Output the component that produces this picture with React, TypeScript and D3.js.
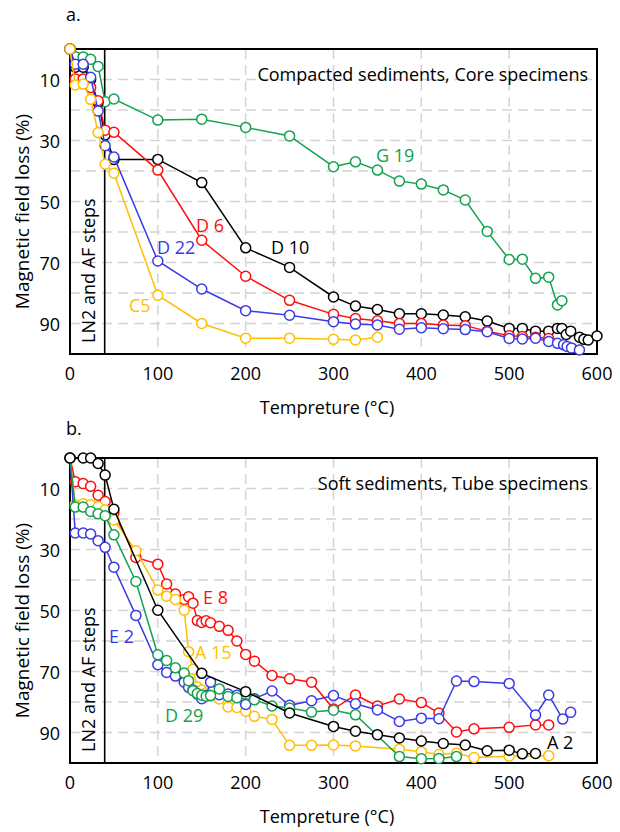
import React from "react";
import * as d3 from "d3";

// ---------- Panel a: Compacted sediments, Core specimens ----------
const tG19 = [0, 6, 15, 23.5, 32, 40, 50, 100, 150, 200, 250, 300, 325, 350, 375, 400, 425, 450, 475, 500, 515, 530, 545, 555, 560];
const vG19 = [0, 2.5, 2.6, 3.4, 5.7, 17.3, 16.4, 23.3, 23, 25.7, 28.5, 38.6, 37, 39.7, 43.3, 44.3, 46.2, 49.5, 59.8, 69, 68.9, 75.2, 74.8, 83.9, 82.5];

const tD10 = [0, 6, 15, 23.5, 32, 40, 50, 100, 150, 200, 250, 300, 325, 350, 375, 400, 425, 450, 475, 500, 515, 530, 545, 555, 560, 565, 570, 580, 585, 590, 600];
const vD10 = [0, 6, 6, 10, 17.5, 28.2, 36.2, 36.2, 43.8, 65.2, 71.6, 81.3, 84.3, 85.4, 86.8, 86.8, 87.2, 87.8, 89.2, 91.6, 91.6, 92.5, 92.5, 91.6, 91.6, 93.6, 92.5, 94.5, 95.2, 95.4, 94.1];

const tD6 = [0, 6, 15, 23.5, 32, 40, 50, 100, 150, 200, 250, 300, 325, 350, 375, 400, 425, 450, 475, 500, 515, 530, 545];
const vD6 = [0, 9.8, 9.8, 12.6, 17, 26.6, 27.3, 39.7, 62.7, 74.5, 82.4, 87, 88.4, 89.1, 90, 90, 90.5, 90.7, 92.5, 94, 94.3, 94.5, 94.9];

const tD22 = [0, 6, 15, 23.5, 32, 40, 50, 100, 150, 200, 250, 300, 325, 350, 375, 400, 425, 450, 475, 500, 515, 530, 545, 555, 562, 566, 571, 580];
const vD22 = [0, 5, 5, 9.3, 20.3, 31.7, 35.4, 69.5, 78.7, 85.8, 87.3, 89.4, 90.2, 90.5, 91.9, 91.4, 91.7, 92, 92.7, 94.9, 95.1, 94.8, 95.9, 96.5, 97, 97.5, 98, 98.7];

const tC5 = [0, 6, 15, 23.5, 32, 40, 50, 100, 150, 200, 250, 300, 325, 350];
const vC5 = [0, 11.8, 11.5, 16.5, 27.4, 37.8, 40.7, 80.7, 90, 94.8, 94.8, 95.2, 95.4, 94.5];

// ---------- Panel b: Soft sediments, Tube specimens ----------
const tE8 = [0, 6, 15, 23.5, 32, 40, 50, 75, 100, 110, 120, 130, 135, 140, 145, 150, 155, 160, 170, 180, 190, 200, 210, 230, 250, 275, 300, 325, 350, 375, 400, 420, 440, 460, 500, 530, 545];
const vE8 = [0, 7.8, 8.4, 9.3, 12.2, 14.3, 18, 32.6, 34.8, 41.3, 44.6, 46.4, 45.5, 47.6, 53.3, 53.9, 53.4, 54, 55.2, 56.5, 60, 64.4, 66.6, 71.3, 72.4, 73.5, 82.3, 77.7, 81.3, 79, 80.2, 83.6, 89.8, 88.8, 88.3, 87.5, 87.5];

const tA15 = [0, 6, 15, 23.5, 32, 40, 50, 75, 100, 110, 120, 130, 135, 140, 145, 150, 155, 160, 170, 180, 190, 200, 210, 230, 250, 275, 300, 325, 375, 400, 420, 440, 460, 500, 545];
const vA15 = [0, 15.3, 15, 15.3, 15.9, 17, 20.3, 30.4, 43.3, 45.3, 46.4, 49.9, 63.5, 69.3, 75.1, 76.1, 77, 78, 79, 81.6, 81.8, 83, 84.7, 85.7, 94.2, 94.2, 94.1, 94.4, 95.5, 96.3, 97.2, 96.8, 98.2, 97.8, 97.6];

const tE2 = [0, 6, 15, 23.5, 32, 40, 50, 75, 100, 110, 120, 130, 135, 140, 145, 150, 155, 160, 170, 180, 190, 200, 210, 230, 250, 275, 300, 325, 350, 375, 400, 420, 440, 460, 500, 530, 545, 561, 570];
const vE2 = [0, 24.6, 24.6, 24.9, 27.1, 29.3, 35.8, 51.6, 67.8, 70.3, 71.5, 73.5, 75.2, 76.1, 77.4, 78.9, 77.8, 73.5, 77.6, 77.4, 77.8, 80.8, 78.9, 76.4, 81.1, 79.6, 77.9, 80.6, 82.6, 86.4, 85.3, 85.5, 73.1, 73.3, 73.9, 84.3, 77.7, 85.6, 83.4];

const tD29 = [0, 6, 15, 23.5, 32, 40, 50, 75, 100, 110, 120, 130, 135, 140, 145, 150, 155, 160, 170, 180, 190, 210, 230, 250, 275, 300, 325, 375, 400, 420, 440];
const vD29 = [0, 16.1, 16.1, 17.5, 18.3, 18.9, 25.2, 40.5, 64.5, 66.4, 68.8, 70.5, 73, 76.3, 77.2, 77.8, 78.1, 77.9, 75.7, 78.2, 78.6, 79.3, 81.3, 82, 83.3, 82.7, 84.2, 97.9, 98.6, 98.5, 97.9];

const tA2 = [0, 15, 23.5, 32, 40, 50, 100, 150, 200, 250, 300, 325, 350, 375, 400, 425, 450, 475, 500, 515, 530];
const vA2 = [0, 0, 0, 1.8, 5.6, 16.8, 49.9, 70.6, 76.6, 83.6, 88, 89.6, 90.7, 91.8, 92.8, 93.6, 94.1, 96, 95.8, 97, 96.9];

// ---------- Axes ----------
const xTicks = [0, 100, 200, 300, 400, 500, 600];
const xGrid = [100, 200, 300, 400, 500];
const yTicks = [10, 30, 50, 70, 90];
const yGrid = [10, 20, 30, 40, 50, 60, 70, 80, 90];
const ln2Temp = 39.5;

const GREEN = "#12a24e";
const RED = "#ff0d0d";
const BLUE = "#3a3ae6";
const YELLOW = "#ffbf00";
const BLACK = "#000000";

const FONT = "'Open Sans', 'Noto Sans', sans-serif";

type Series = { t: number[]; v: number[]; color: string };
type Label = { text: string; x: number; y: number; color: string };

const seriesA: Series[] = [
  { t: tG19, v: vG19, color: GREEN },
  { t: tD10, v: vD10, color: BLACK },
  { t: tD6, v: vD6, color: RED },
  { t: tD22, v: vD22, color: BLUE },
  { t: tC5, v: vC5, color: YELLOW },
];
const seriesB: Series[] = [
  { t: tE8, v: vE8, color: RED },
  { t: tA15, v: vA15, color: YELLOW },
  { t: tE2, v: vE2, color: BLUE },
  { t: tD29, v: vD29, color: GREEN },
  { t: tA2, v: vA2, color: BLACK },
];

const labelsA: Label[] = [
  { text: "G 19", x: 376, y: 155, color: GREEN },
  { text: "D 6", x: 196, y: 225, color: RED },
  { text: "D 10", x: 271, y: 247, color: BLACK },
  { text: "D 22", x: 157, y: 247, color: BLUE },
  { text: "C5", x: 129, y: 305, color: YELLOW },
];
const labelsB: Label[] = [
  { text: "E 8", x: 203, y: 597, color: RED },
  { text: "A 15", x: 195, y: 652, color: YELLOW },
  { text: "E 2", x: 109, y: 636, color: BLUE },
  { text: "D 29", x: 165, y: 715, color: GREEN },
  { text: "A 2", x: 547, y: 742, color: BLACK },
];

const LEFT = 70;
const RIGHT = 597;
const x = d3.scaleLinear().domain([0, 600]).range([LEFT, RIGHT]);

function Panel({ top, bottom, series, labels, note, letter, letterY }: {
  top: number; bottom: number; series: Series[]; labels: Label[]; note: string; letter: string; letterY: number;
}) {
  const y = d3.scaleLinear().domain([0, 100]).range([top, bottom]);
  const line = d3.line<[number, number]>().x((d) => x(d[0])).y((d) => y(d[1]));
  const midY = (top + bottom) / 2;
  return (
    <g>
      <text x={66} y={letterY} fontSize={18} fontFamily={FONT} dominantBaseline="central">{letter}</text>
      {yGrid.map((g) => (
        <line key={"h" + g} x1={LEFT} x2={RIGHT} y1={y(g)} y2={y(g)} stroke="#d4d4d4" strokeWidth={1.5} strokeDasharray="10,6" />
      ))}
      {xGrid.map((g) => (
        <line key={"v" + g} x1={x(g)} x2={x(g)} y1={top} y2={bottom} stroke="#d4d4d4" strokeWidth={1.5} strokeDasharray="10,6" />
      ))}
      <rect x={LEFT} y={top} width={RIGHT - LEFT} height={bottom - top} fill="none" stroke="#000" strokeWidth={2} />
      <line x1={x(ln2Temp)} x2={x(ln2Temp)} y1={top} y2={bottom} stroke="#000" strokeWidth={1.6} />
      <text transform={`translate(${x(ln2Temp) - 17},${bottom - 11}) rotate(-90)`} fontSize={18} fontFamily={FONT} dominantBaseline="central">LN2 and AF steps</text>
      <text x={588} y={top + 25} fontSize={18} fontFamily={FONT} textAnchor="end" dominantBaseline="central">{note}</text>
      {series.map((s, i) => {
        const pts: [number, number][] = s.t.map((t, j) => [t, s.v[j]]);
        return (
          <g key={i}>
            <path d={line(pts) || ""} fill="none" stroke={s.color} strokeWidth={1.5} />
            {pts.map((p, j) => (
              <circle key={j} cx={x(p[0])} cy={y(p[1])} r={5} fill="#fff" stroke={s.color} strokeWidth={1.5} />
            ))}
          </g>
        );
      })}
      {labels.map((l, i) => (
        <text key={i} x={l.x} y={l.y} fill={l.color} fontSize={18} fontFamily={FONT} dominantBaseline="central">{l.text}</text>
      ))}
      {xTicks.map((t) => (
        <text key={"xt" + t} x={x(t)} y={bottom + 19} fontSize={18} fontFamily={FONT} textAnchor="middle" dominantBaseline="central">{t}</text>
      ))}
      {yTicks.map((t) => (
        <text key={"yt" + t} x={60} y={y(t)} fontSize={18} fontFamily={FONT} textAnchor="end" dominantBaseline="central">{t}</text>
      ))}
      <text transform={`translate(22,${midY + 10}) rotate(-90)`} fontSize={19} fontFamily={FONT} textAnchor="middle" dominantBaseline="central">Magnetic field loss (%)</text>
      <text x={327} y={bottom + 53} fontSize={18} fontFamily={FONT} textAnchor="middle" dominantBaseline="central">Tempreture (°C)</text>
    </g>
  );
}

export default function App() {
  return (
    <svg width={620} height={832} style={{ position: "absolute", left: 0, top: 0, background: "#fff" }}>
      <rect x={0} y={0} width={620} height={832} fill="#fff" />
      <Panel top={49} bottom={354} series={seriesA} labels={labelsA} note="Compacted sediments, Core specimens" letter="a." letterY={14} />
      <Panel top={458} bottom={763} series={seriesB} labels={labelsB} note="Soft sediments, Tube specimens" letter="b." letterY={428} />
    </svg>
  );
}
